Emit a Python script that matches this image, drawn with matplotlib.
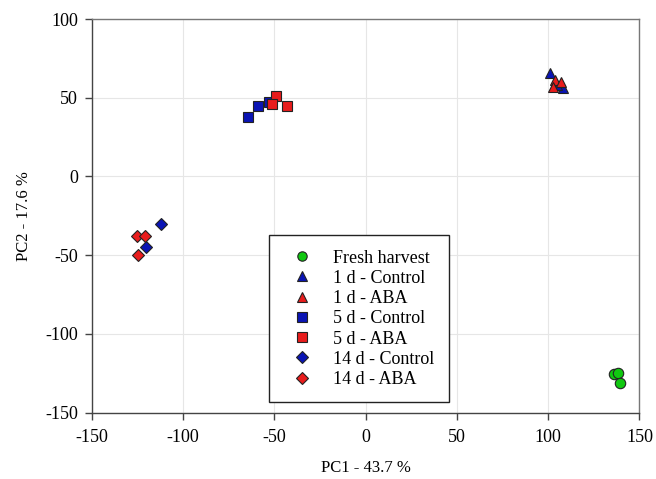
import matplotlib.pyplot as plt

plt.rcParams['font.family'] = ['Liberation Serif', 'DejaVu Serif']
plt.rcParams['axes.unicode_minus'] = False

# PCA scores
fresh_x = [136, 138.5, 139.5]
fresh_y = [-125.5, -125, -131]

c1_x = [101, 108, 105]
c1_y = [66, 56, 58]
a1_x = [104, 107, 102.5]
a1_y = [61, 60, 57]

c5_x = [-64.5, -59, -53]
c5_y = [38, 45, 47]
a5_x = [-49, -51.5, -43]
a5_y = [51, 46, 45]

c14_x = [-112, -120]
c14_y = [-30, -44.5]
a14_x = [-125, -121, -124.5]
a14_y = [-38, -38, -50]

green = '#10c810'
blue = '#0a14b4'
red = '#e81c1c'

series = [
    ('Fresh harvest', fresh_x, fresh_y, 'o', green),
    ('1 d - Control', c1_x, c1_y, '^', blue),
    ('1 d - ABA', a1_x, a1_y, '^', red),
    ('5 d - Control', c5_x, c5_y, 's', blue),
    ('5 d - ABA', a5_x, a5_y, 's', red),
    ('14 d - Control', c14_x, c14_y, 'D', blue),
    ('14 d - ABA', a14_x, a14_y, 'D', red),
]

fig = plt.figure(figsize=(6.56, 4.79), dpi=100)
ax = fig.add_axes([0.1398, 0.1384, 0.8350, 0.8219])

for label, xs, ys, m, c in series:
    ms = 7.5 if m != 'D' else 6.5
    ax.plot(xs, ys, linestyle='none', marker=m, markersize=ms,
            markerfacecolor=c, markeredgecolor='#222222', markeredgewidth=0.8,
            label=label, zorder=3)

ax.set_xlim(-150, 150)
ax.set_ylim(-150, 100)
ax.set_xticks(range(-150, 151, 50))
ax.set_yticks(range(-150, 101, 50))
ax.grid(True, color='#e6e6e6', linewidth=0.8, zorder=0)
ax.set_axisbelow(True)
for s in ['left', 'bottom']:
    ax.spines[s].set_color('#444444')
    ax.spines[s].set_linewidth(1.0)
for s in ['top', 'right']:
    ax.spines[s].set_color('#777777')
    ax.spines[s].set_linewidth(1.0)
ax.tick_params(direction='out', length=5, width=1, color='#444444',
               labelsize=13)
ax.tick_params(axis='x', pad=7)
ax.tick_params(axis='y', pad=5)

ax.set_xlabel('PC1 - 43.7 %', fontsize=12, labelpad=10)
ax.set_ylabel('PC2 - 17.6 %', fontsize=12, labelpad=9)

leg = ax.legend(loc='lower left', bbox_to_anchor=(0.324, 0.026), fontsize=13,
                frameon=True, fancybox=False, edgecolor='#222222',
                framealpha=1, borderaxespad=0, markerscale=0.9,
                handletextpad=0.7, borderpad=0.8, labelspacing=0.18,
                handlelength=2.05)
leg.get_frame().set_linewidth(1.0)

fig.savefig('out.png', dpi=100)
